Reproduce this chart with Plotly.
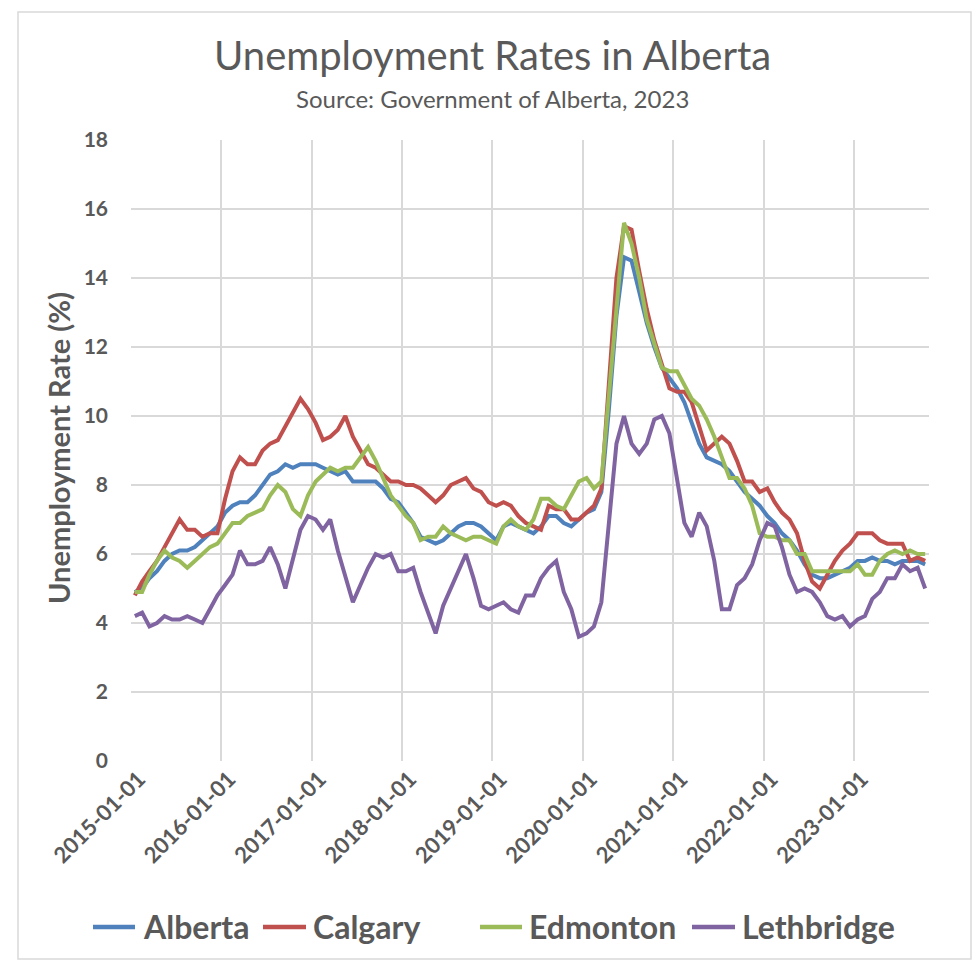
import pandas as pd
import plotly.graph_objects as go

# Monthly observations, 2015-01 .. 2023-10
start_month = "2015-01-01"
n_months = 106
months = pd.date_range(start_month, periods=n_months, freq="MS")

alberta = [
    4.9, 5.0, 5.3, 5.5, 5.8, 6.0, 6.1, 6.1, 6.2, 6.4, 6.6, 6.8,
    7.2, 7.4, 7.5, 7.5, 7.7, 8.0, 8.3, 8.4, 8.6, 8.5, 8.6, 8.6,
    8.6, 8.5, 8.4, 8.3, 8.4, 8.1, 8.1, 8.1, 8.1, 7.9, 7.6, 7.5,
    7.2, 6.9, 6.5, 6.4, 6.3, 6.4, 6.6, 6.8, 6.9, 6.9, 6.8, 6.6,
    6.4, 6.8, 6.9, 6.8, 6.7, 6.6, 6.8, 7.1, 7.1, 6.9, 6.8, 7.0,
    7.2, 7.3, 7.8, 10.2, 12.9, 14.6, 14.5, 13.6, 12.7, 12.0, 11.4, 11.1,
    10.8, 10.4, 9.8, 9.2, 8.8, 8.7, 8.6, 8.4, 8.1, 7.8, 7.6, 7.4,
    7.1, 6.9, 6.6, 6.4, 6.1, 5.7, 5.4, 5.3, 5.3, 5.4, 5.5, 5.6,
    5.8, 5.8, 5.9, 5.8, 5.8, 5.7, 5.8, 5.8, 5.8, 5.7,
]
calgary = [
    4.8, 5.2, 5.5, 5.8, 6.2, 6.6, 7.0, 6.7, 6.7, 6.5, 6.6, 6.6,
    7.6, 8.4, 8.8, 8.6, 8.6, 9.0, 9.2, 9.3, 9.7, 10.1, 10.5, 10.2,
    9.8, 9.3, 9.4, 9.6, 10.0, 9.4, 9.0, 8.6, 8.5, 8.3, 8.1, 8.1,
    8.0, 8.0, 7.9, 7.7, 7.5, 7.7, 8.0, 8.1, 8.2, 7.9, 7.8, 7.5,
    7.4, 7.5, 7.4, 7.1, 6.9, 6.8, 6.7, 7.4, 7.3, 7.3, 7.0, 7.0,
    7.2, 7.4, 7.9, 11.0, 14.0, 15.5, 15.4, 14.2, 13.1, 12.2, 11.5, 10.8,
    10.7, 10.7, 10.4, 9.7, 9.0, 9.2, 9.4, 9.2, 8.7, 8.1, 8.1, 7.8,
    7.9, 7.5, 7.2, 7.0, 6.6, 5.8, 5.2, 5.0, 5.4, 5.8, 6.1, 6.3,
    6.6, 6.6, 6.6, 6.4, 6.3, 6.3, 6.3, 5.8, 5.9, 5.8,
]
edmonton = [
    4.9, 4.9, 5.4, 5.8, 6.1, 5.9, 5.8, 5.6, 5.8, 6.0, 6.2, 6.3,
    6.6, 6.9, 6.9, 7.1, 7.2, 7.3, 7.7, 8.0, 7.8, 7.3, 7.1, 7.7,
    8.1, 8.3, 8.5, 8.4, 8.5, 8.5, 8.8, 9.1, 8.7, 8.2, 7.7, 7.4,
    7.1, 6.9, 6.4, 6.5, 6.5, 6.8, 6.6, 6.5, 6.4, 6.5, 6.5, 6.4,
    6.3, 6.8, 7.0, 6.8, 6.7, 7.0, 7.6, 7.6, 7.4, 7.3, 7.7, 8.1,
    8.2, 7.9, 8.1, 10.6, 13.4, 15.6, 15.0, 14.0, 12.8, 12.1, 11.4, 11.3,
    11.3, 10.9, 10.5, 10.3, 9.9, 9.4, 8.8, 8.2, 8.2, 7.9, 7.4, 6.6,
    6.5, 6.5, 6.4, 6.4, 6.0, 6.0, 5.5, 5.5, 5.5, 5.5, 5.5, 5.5,
    5.7, 5.4, 5.4, 5.8, 6.0, 6.1, 6.0, 6.1, 6.0, 6.0,
]
lethbridge = [
    4.2, 4.3, 3.9, 4.0, 4.2, 4.1, 4.1, 4.2, 4.1, 4.0, 4.4, 4.8,
    5.1, 5.4, 6.1, 5.7, 5.7, 5.8, 6.2, 5.7, 5.0, 5.9, 6.7, 7.1,
    7.0, 6.7, 7.0, 6.1, 5.3, 4.6, 5.1, 5.6, 6.0, 5.9, 6.0, 5.5,
    5.5, 5.6, 4.9, 4.3, 3.7, 4.5, 5.0, 5.5, 6.0, 5.3, 4.5, 4.4,
    4.5, 4.6, 4.4, 4.3, 4.8, 4.8, 5.3, 5.6, 5.8, 4.9, 4.4, 3.6,
    3.7, 3.9, 4.6, 6.9, 9.2, 10.0, 9.2, 8.9, 9.2, 9.9, 10.0, 9.5,
    8.2, 6.9, 6.5, 7.2, 6.8, 5.8, 4.4, 4.4, 5.1, 5.3, 5.7, 6.4,
    6.9, 6.8, 6.2, 5.4, 4.9, 5.0, 4.9, 4.6, 4.2, 4.1, 4.2, 3.9,
    4.1, 4.2, 4.7, 4.9, 5.3, 5.3, 5.7, 5.5, 5.6, 5.0,
]

series_names = ["Alberta", "Calgary", "Edmonton", "Lethbridge"]
series_values = [alberta, calgary, edmonton, lethbridge]
series_colors = ["#4F81BD", "#C0504D", "#9BBB59", "#8064A2"]

y_ticks = [0, 2, 4, 6, 8, 10, 12, 14, 16, 18]
x_tick_labels = [f"{y}-01-01" for y in range(2015, 2024)]

title_text = "Unemployment Rates in Alberta"
subtitle_text = "Source: Government of Alberta, 2023"
y_title = "Unemployment Rate (%)"

FONT = "Lato"
TXT = "#595959"
GRID = "#D9D9D9"

W, H = 974, 961
L, R, T, B = 131, 45, 140, 200
pw, ph = W - L - R, H - T - B


def px_x(p):
    return (p - L) / pw


def px_y(p):
    return (H - B - p) / ph


fig = go.Figure()
for name, vals, col in zip(series_names, series_values, series_colors):
    fig.add_trace(go.Scatter(
        x=months, y=vals, name=name, mode="lines",
        line=dict(color=col, width=4),
        xperiod="M1", xperiodalignment="middle",
        showlegend=False,
    ))

# custom legend (line swatch + bold label), laid out like the original
legend_line_x = [(93, 135), (263, 306), (480, 522), (692, 735)]
legend_text_x = [141, 311, 527, 740]
legend_y = 927
shapes = [
    dict(type="rect", xref="paper", yref="paper",
         x0=px_x(18), x1=px_x(971), y0=px_y(959), y1=px_y(12),
         line=dict(color=GRID, width=1.5), fillcolor="rgba(0,0,0,0)", layer="below"),
]
annotations = [
    dict(text=title_text, xref="paper", yref="paper", x=px_x(492), y=px_y(55),
         xanchor="center", yanchor="middle", showarrow=False,
         font=dict(size=40, family=FONT, color=TXT)),
    dict(text=subtitle_text, xref="paper", yref="paper", x=px_x(492), y=px_y(99),
         xanchor="center", yanchor="middle", showarrow=False,
         font=dict(size=24, family=FONT, color=TXT)),
    dict(text=y_title, xref="paper", yref="paper", x=px_x(58), y=px_y(448),
         xanchor="center", yanchor="middle", showarrow=False, textangle=-90,
         font=dict(size=29, family=FONT, color=TXT, weight="bold")),
]
for name, col, (lx0, lx1), tx in zip(series_names, series_colors, legend_line_x, legend_text_x):
    shapes.append(dict(type="line", xref="paper", yref="paper",
                       x0=px_x(lx0), x1=px_x(lx1), y0=px_y(legend_y), y1=px_y(legend_y),
                       line=dict(color=col, width=4.5)))
    annotations.append(dict(text=name, xref="paper", yref="paper",
                            x=px_x(tx), y=px_y(legend_y - 1), xanchor="left", yanchor="middle",
                            showarrow=False,
                            font=dict(size=32, family=FONT, color=TXT, weight="bold")))

fig.update_layout(
    width=W, height=H,
    margin=dict(l=L, r=R, t=T, b=B, autoexpand=False),
    paper_bgcolor="white", plot_bgcolor="white",
    font=dict(family=FONT, color=TXT),
    showlegend=False,
    xaxis=dict(
        range=["2015-01-01", "2023-11-01"],
        tickvals=[f"{y}-01-01" for y in range(2015, 2024)],
        ticktext=x_tick_labels,
        tickangle=-45,
        ticklabelshift=8,
        showgrid=True, gridcolor=GRID, gridwidth=1.5,
        showline=False, zeroline=False, ticks="",
        tickfont=dict(size=22, family=FONT, color=TXT, weight="bold"),
    ),
    yaxis=dict(
        range=[0, 18],
        tickvals=y_ticks,
        showgrid=True, gridcolor=GRID, gridwidth=1.5,
        showline=False, zeroline=False, ticks="",
        ticklabelstandoff=22,
        tickfont=dict(size=21, family=FONT, color=TXT, weight="bold"),
    ),
    annotations=annotations,
    shapes=shapes,
)

fig.write_html("out.html")
